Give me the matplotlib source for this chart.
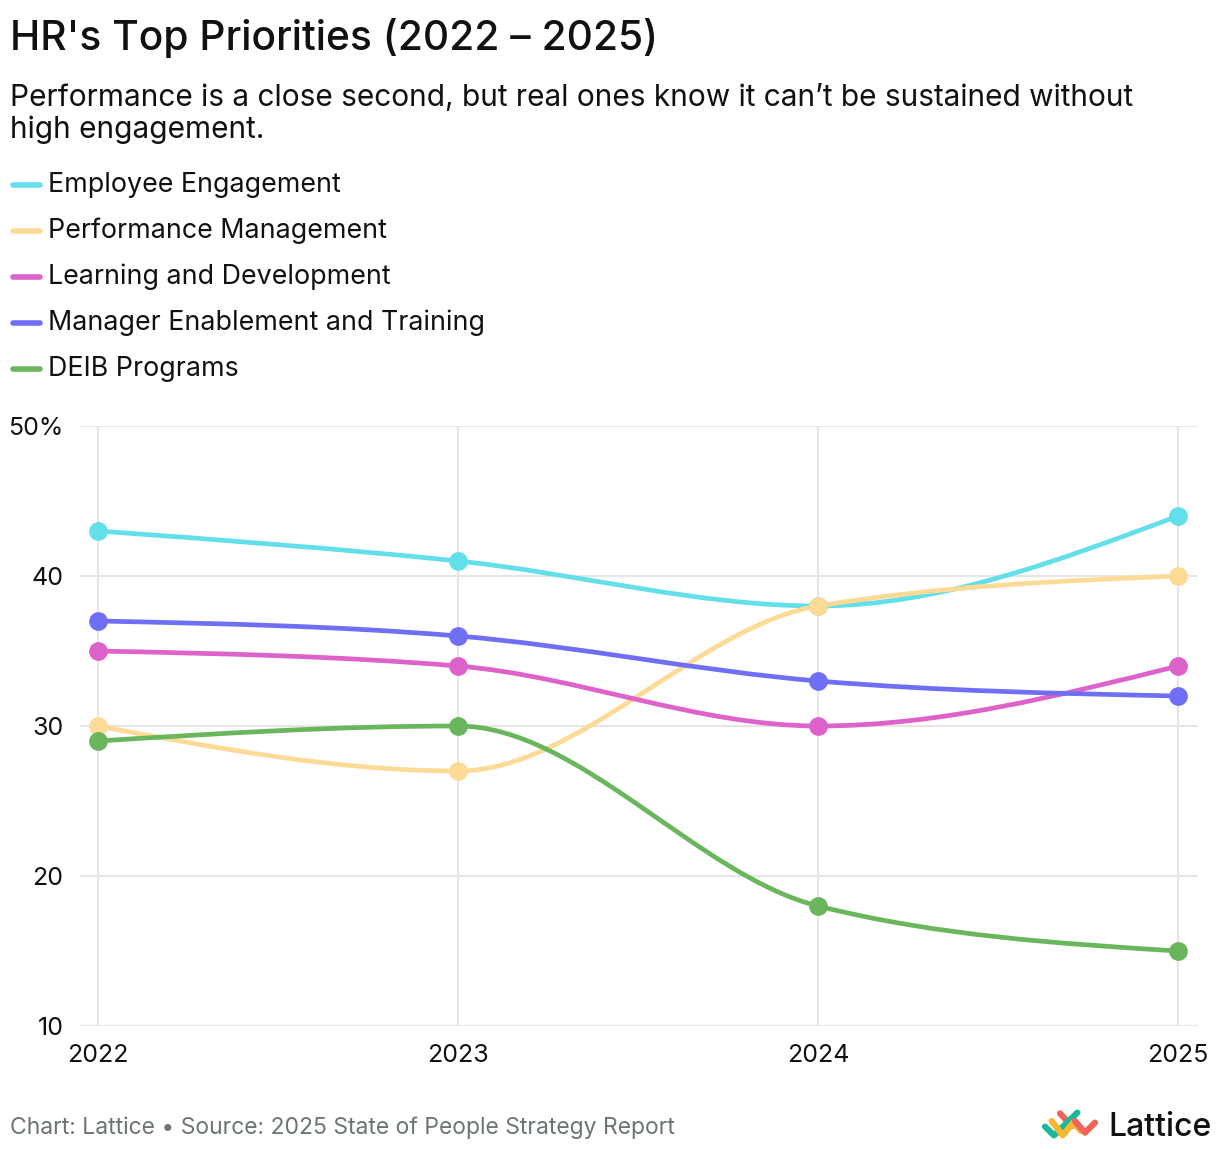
import matplotlib.pyplot as plt
from matplotlib.path import Path
from matplotlib.patches import PathPatch
from matplotlib.lines import Line2D
import numpy as np

plt.rcParams['font.family'] = ['Inter', 'DejaVu Sans']

years = [2022, 2023, 2024, 2025]
series_names = ["Employee Engagement", "Performance Management", "Learning and Development",
                "Manager Enablement and Training", "DEIB Programs"]
engagement = [43, 41, 38, 44]
performance = [30, 27, 38, 40]
learning = [35, 34, 30, 34]
manager = [37, 36, 33, 32]
deib = [29, 30, 18, 15]
series_values = [engagement, performance, learning, manager, deib]
colors = ["#63dfe9", "#fddb96", "#dd62c9", "#6f6ff5", "#6ab65c"]
y_ticks = [10, 20, 30, 40, 50]
y_labels = ["10", "20", "30", "40", "50%"]

W, H = 1220, 1150


def monotone_path(x, y):
    # monotone-x cubic, same idea as d3.curveMonotoneX
    x = np.asarray(x, float)
    y = np.asarray(y, float)
    n = len(x)
    h = np.diff(x)
    s = np.diff(y) / h
    t = np.zeros(n)
    for i in range(1, n - 1):
        p = (s[i - 1] * h[i] + s[i] * h[i - 1]) / (h[i - 1] + h[i])
        t[i] = (np.sign(s[i - 1]) + np.sign(s[i])) * min(abs(s[i - 1]), abs(s[i]), 0.5 * abs(p))
    t[0] = (3 * s[0] - t[1]) / 2
    t[-1] = (3 * s[-1] - t[-2]) / 2
    verts = [(x[0], y[0])]
    codes = [Path.MOVETO]
    for i in range(n - 1):
        dx = h[i] / 3
        verts += [(x[i] + dx, y[i] + dx * t[i]), (x[i + 1] - dx, y[i + 1] - dx * t[i + 1]), (x[i + 1], y[i + 1])]
        codes += [Path.CURVE4] * 3
    return Path(verts, codes)


fig = plt.figure(figsize=(W / 100, H / 100), dpi=100)
ax = fig.add_axes([80 / W, 1 - 1026 / H, (1198 - 80) / W, (1026 - 426) / H])

x0 = 2022 - 18 / 360
x1 = 2025 + 20 / 360
ax.set_xlim(x0, x1)
ax.set_ylim(10, 50)

for v in y_ticks:
    ax.axhline(v, color="#e6e6e6", lw=1.5, zorder=0)
for yr in years:
    ax.axvline(yr, color="#e6e6e6", lw=1.5, zorder=0)

for vals, c in zip(series_values, colors):
    ax.add_patch(PathPatch(monotone_path(years, vals), fill=False, edgecolor=c, lw=3.4, capstyle='round', zorder=2))
    ax.plot(years, vals, 'o', color=c, markersize=12.5, zorder=3, clip_on=False)

for sp in ax.spines.values():
    sp.set_visible(False)
ax.set_yticks(y_ticks)
ax.set_yticklabels(y_labels)
ax.set_xticks(years)
ax.set_xticklabels([str(y) for y in years])
ax.tick_params(length=0, labelsize=18, colors="#111111")
ax.tick_params(axis='y', pad=12)
ax.tick_params(axis='x', pad=13)

# titles
fig.text(10 / W, 1 - 38 / H, "HR's Top Priorities (2022 – 2025)", fontsize=29.3, fontweight='medium',
         va='center', ha='left', color="#111111")
fig.text(10 / W, 1 - 114 / H, "Performance is a close second, but real ones know it can\u2019t be sustained without\nhigh engagement.",
         fontsize=21.5, va='center', ha='left', color="#111111", linespacing=1.12)

# legend
for i, (name, c) in enumerate(zip(series_names, colors)):
    yy = 1 - (185 + 46 * i) / H
    fig.add_artist(Line2D([13 / W, 40 / W], [yy, yy], color=c, lw=4, solid_capstyle='round', transform=fig.transFigure))
    fig.text(48 / W, yy, name, fontsize=19.3, va='center', ha='left', color="#111111")

# footer
fig.text(10 / W, 1 - 1128 / H, "Chart: Lattice \u2022 Source: 2025 State of People Strategy Report",
         fontsize=16.5, va='center', ha='left', color="#6b7571")

# logo
lax = fig.add_axes([1040 / W, 1 - 1142 / H, 62 / W, 36 / H])
lax.set_xlim(0, 186)
lax.set_ylim(108, 0)
lax.axis('off')
lw = 4.5
lax.plot([60, 95], [22, 60], color="#f2645a", lw=lw, solid_capstyle='round')
lax.plot([15, 42, 112], [62, 88, 20], color="#1ab99a", lw=lw, solid_capstyle='round')
lax.plot([35, 68, 100, 122], [45, 88, 50, 74], color="#fbb731", lw=lw, solid_capstyle='round')
lax.plot([105, 135, 165], [45, 80, 50], color="#f2645a", lw=lw, solid_capstyle='round')
fig.text(1108 / W, 1 - 1127 / H, "Lattice", fontsize=23, fontweight='medium', va='center', ha='left', color="#111111")

fig.savefig("out.png", dpi=100)
